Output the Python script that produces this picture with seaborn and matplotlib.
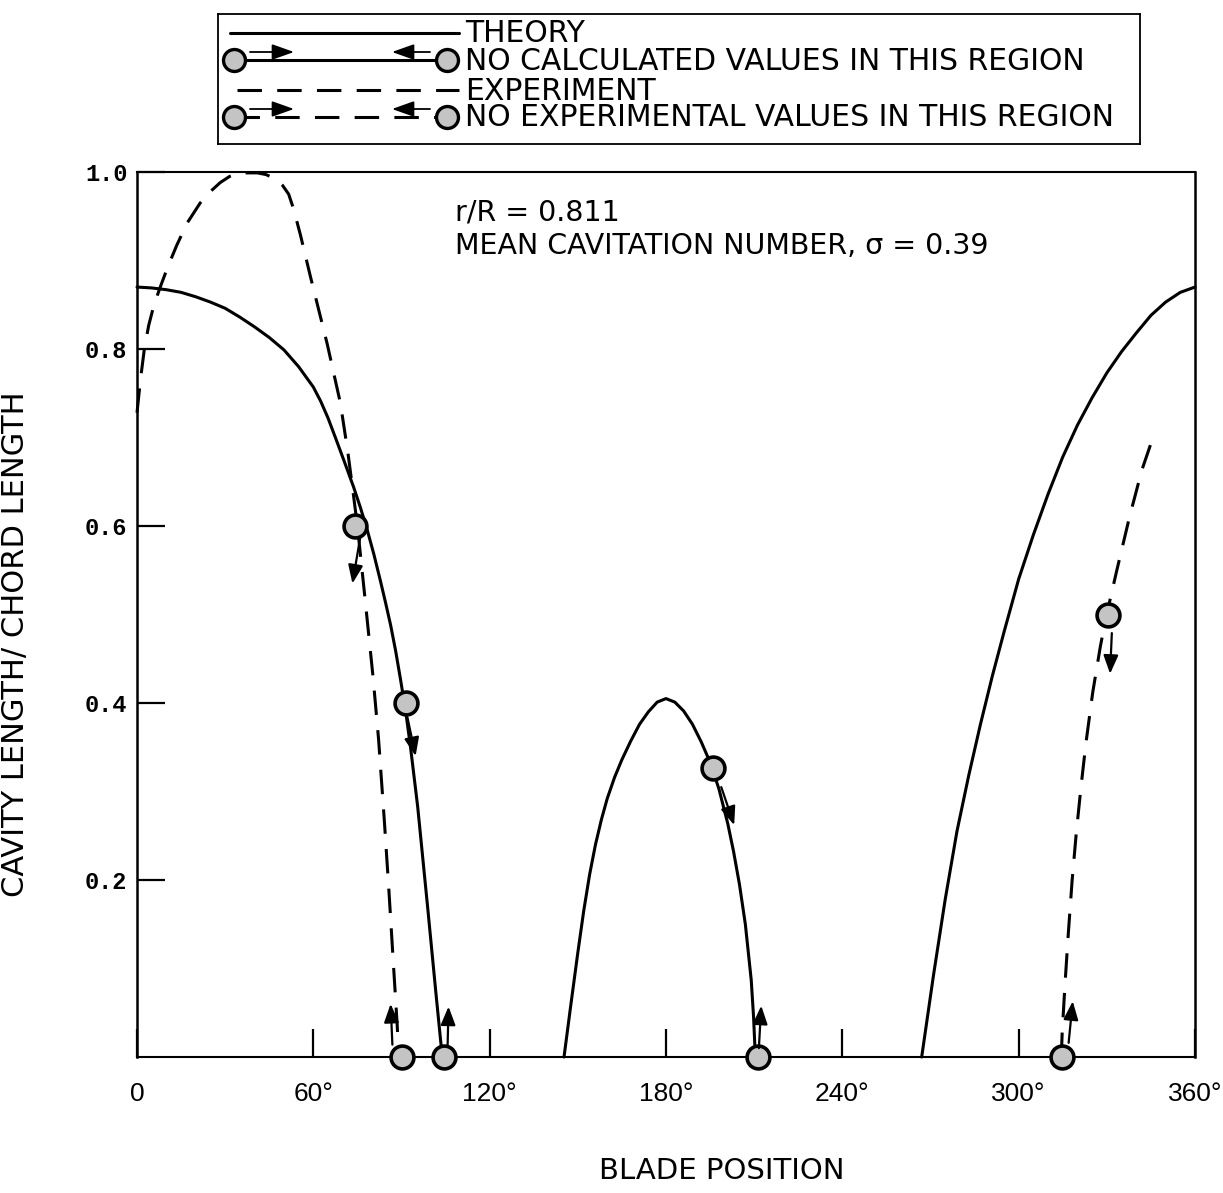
import matplotlib
matplotlib.use("Agg")
import matplotlib.pyplot as plt
import pandas as pd
import seaborn as sns

# ---- theory: cavity length / chord length vs blade position (deg) ----
theory_a_deg = [0, 5, 10, 15, 20, 25, 30, 35, 40, 45, 50, 55, 60, 62.5, 65,
                67.5, 70.3, 73.7, 76.0, 78.3, 80.6, 82.9, 84.6, 86.3, 88.0,
                89.7, 91.4, 93.0, 95.5, 98.9, 101.6, 103.3, 103.9]
theory_a_len = [0.870, 0.869, 0.867, 0.864, 0.859, 0.853, 0.846, 0.836, 0.825,
                0.813, 0.799, 0.780, 0.757, 0.741, 0.722, 0.700, 0.675, 0.644,
                0.621, 0.596, 0.568, 0.537, 0.513, 0.488, 0.459, 0.426, 0.391,
                0.352, 0.283, 0.169, 0.076, 0.019, 0.0]

theory_b_deg = [145.3, 147.5, 150.0, 152.0, 154.0, 156.0, 158.0, 160.0, 162.5,
                165.0, 168.0, 171.0, 174.0, 177.0, 180.0, 183.0, 186.0, 189.0,
                192.0, 195.0, 198.0, 201.0, 203.0, 205.0, 207.0, 209.0, 209.8,
                210.4]
theory_b_len = [0.0, 0.056, 0.118, 0.165, 0.206, 0.240, 0.268, 0.292, 0.316,
                0.336, 0.357, 0.376, 0.390, 0.401, 0.405, 0.401, 0.391, 0.376,
                0.356, 0.333, 0.303, 0.264, 0.232, 0.195, 0.150, 0.087, 0.045,
                0.0]

theory_c_deg = [267.0, 271.0, 275.0, 279.0, 283.0, 287.0, 291.0, 295.0, 300.0,
                305.0, 310.0, 315.0, 320.0, 325.0, 330.0, 335.0, 340.0, 345.0,
                350.0, 355.0, 360.0]
theory_c_len = [0.0, 0.092, 0.178, 0.255, 0.318, 0.376, 0.430, 0.480, 0.540,
                0.590, 0.636, 0.678, 0.714, 0.745, 0.773, 0.797, 0.818, 0.838,
                0.853, 0.864, 0.870]

# ---- experiment ----
exp_a_deg = [0, 1.2, 2.5, 4.0, 5.8, 7.8, 10.5, 13.5, 17.0, 21.5, 25.0, 28.3,
             31.5, 35.0, 41.0, 44.0, 47.6, 49.5, 51.6, 53.3, 55.6, 59.0, 64.7,
             69.2, 71.8, 73.3, 75.0, 77.4, 80.3, 82.2, 84.2, 85.7, 87.1, 88.5,
             89.1]
exp_a_len = [0.728, 0.766, 0.800, 0.827, 0.850, 0.869, 0.893, 0.917, 0.942,
             0.965, 0.978, 0.988, 0.995, 0.999, 0.999, 0.997, 0.991, 0.985,
             0.975, 0.958, 0.929, 0.882, 0.806, 0.739, 0.682, 0.644, 0.600,
             0.524, 0.430, 0.359, 0.265, 0.189, 0.113, 0.038, 0.0]

exp_b_deg = [314.5, 314.8, 315.8, 316.9, 318.2, 319.6, 321.2, 322.9, 325.2,
             327.8, 329.8, 333.4, 337.7, 341.9, 345.7]
exp_b_len = [0.0, 0.027, 0.084, 0.140, 0.200, 0.253, 0.305, 0.355, 0.412,
             0.464, 0.498, 0.550, 0.610, 0.663, 0.700]

# ---- end points of the regions without values ----
calc_gap_deg = [91.4, 104.3, 196.0, 211.4]
calc_gap_len = [0.40, 0.0, 0.327, 0.0]
exp_gap_deg = [74.3, 90.3, 314.7, 330.4]
exp_gap_len = [0.60, 0.0, 0.0, 0.499]

# direction arrows next to the end points: (tail_deg, tail_len, head_deg, head_len)
gap_arrows = [
    (76.0, 0.588, 73.3, 0.535),
    (92.0, 0.384, 94.8, 0.340),
    (198.8, 0.305, 203.2, 0.262),
    (211.6, 0.010, 212.4, 0.058),
    (86.9, 0.014, 86.3, 0.060),
    (105.7, 0.014, 106.0, 0.057),
    (317.0, 0.016, 318.4, 0.063),
    (331.7, 0.479, 331.1, 0.433),
]

x_ticks = [0, 60, 120, 180, 240, 300, 360]
x_tick_labels = ["0", "60\u00b0", "120\u00b0", "180\u00b0", "240\u00b0", "300\u00b0", "360\u00b0"]
y_ticks = [0.2, 0.4, 0.6, 0.8, 1.0]
y_tick_labels = ["0.2", "0.4", "0.6", "0.8", "1.0"]

legend_rows = ["THEORY", "NO CALCULATED VALUES IN THIS REGION",
               "EXPERIMENT", "NO EXPERIMENTAL VALUES IN THIS REGION"]

sns.set_style("ticks")
plt.rcParams["font.family"] = ["DejaVu Sans"]
plt.rcParams.update({"text.color": "black", "axes.labelcolor": "black",
                     "xtick.color": "black", "ytick.color": "black"})

W, H = 1223, 1193
fig = plt.figure(figsize=(W / 100, H / 100), dpi=100)
ax = fig.add_axes([137 / W, 1 - 1057 / H, 1058 / W, 885 / H])

LW = 2.2
DASH = (0, (8, 5))
MARK_FACE = "#c4c4c4"


def curve(deg, length, dashed):
    df = pd.DataFrame({"deg": deg, "len": length})
    sns.lineplot(data=df, x="deg", y="len", ax=ax, sort=False, estimator=None,
                 color="black", lw=LW, linestyle=DASH if dashed else "-",
                 clip_on=False, zorder=3)


curve(theory_a_deg, theory_a_len, False)
curve(theory_b_deg, theory_b_len, False)
curve(theory_c_deg, theory_c_len, False)
curve(exp_a_deg, exp_a_len, True)
curve(exp_b_deg, exp_b_len, True)

for gx, gy in ((calc_gap_deg, calc_gap_len), (exp_gap_deg, exp_gap_len)):
    sns.scatterplot(x=gx, y=gy, ax=ax, s=270, color=MARK_FACE,
                    edgecolor="black", linewidth=2.6, zorder=5, clip_on=False)

for tx, ty, hx, hy in gap_arrows:
    ax.annotate("", xy=(hx, hy), xytext=(tx, ty),
                arrowprops=dict(arrowstyle="-|>,head_length=0.7,head_width=0.28",
                                color="black", lw=1.6, shrinkA=0, shrinkB=0,
                                mutation_scale=16),
                zorder=6, annotation_clip=False)

ax.set_xlim(0, 360)
ax.set_ylim(0, 1.0)
ax.set_xticks(x_ticks)
ax.set_xticklabels(x_tick_labels)
ax.set_yticks(y_ticks)
ax.set_yticklabels(y_tick_labels)
ax.tick_params(axis="x", direction="in", length=20, width=1.6, pad=18,
               bottom=True, top=False)
ax.tick_params(axis="y", direction="in", length=20, width=1.6, pad=7,
               left=True, right=False)
for lbl in ax.get_xticklabels():
    lbl.set_fontfamily(["DejaVu Sans Condensed", "Liberation Sans"])
    lbl.set_fontsize(19)
    lbl.set_color("black")
for lbl in ax.get_yticklabels():
    lbl.set_fontfamily(["Liberation Mono", "DejaVu Sans Mono"])
    lbl.set_fontweight("bold")
    lbl.set_fontsize(17)
    lbl.set_color("black")

for side, sp in ax.spines.items():
    sp.set_visible(True)
    sp.set_linewidth(1.8 if side in ("left", "right") else 1.5)
    sp.set_color("black")

ax.set_xlabel("BLADE POSITION", fontsize=21, color="black")
ax.set_ylabel("CAVITY LENGTH/ CHORD LENGTH", fontsize=22, color="black")
ax.xaxis.set_label_coords((722 - 137) / 1058, (1057 - 1157) / 885)
ax.yaxis.set_label_coords((30 - 137) / 1058, (1057 - 644) / 885)

ax.text((455 - 137) / 1058, (1057 - 212) / 885, "r/R = 0.811",
        transform=ax.transAxes, fontsize=20.5, va="center", ha="left", color="black")
ax.text((455 - 137) / 1058, (1057 - 246) / 885,
        "MEAN CAVITATION NUMBER, \u03c3 = 0.39",
        transform=ax.transAxes, fontsize=20.5, va="center", ha="left", color="black")

# ---- boxed key above the plot ----
lg = fig.add_axes([218 / W, 1 - 144 / H, 922 / W, 130 / H])
lg.set_xlim(0, 922)
lg.set_ylim(130, 0)
lg.set_xticks([])
lg.set_yticks([])
lg.set_facecolor("white")
for sp in lg.spines.values():
    sp.set_visible(True)
    sp.set_linewidth(1.3)
    sp.set_color("black")

row_y = [19, 46, 76, 103]
lg.plot([12, 241], [row_y[0], row_y[0]], color="black", lw=LW)
lg.plot([16, 229], [row_y[1], row_y[1]], color="black", lw=LW)
lg.plot([19, 241], [row_y[2], row_y[2]], color="black", lw=LW, linestyle=DASH)
lg.plot([17, 229], [row_y[3], row_y[3]], color="black", lw=LW, linestyle=DASH)
for ry in (row_y[1], row_y[3]):
    lg.scatter([16, 229], [ry, ry], s=250, color=MARK_FACE, edgecolor="black",
               linewidth=2.4, zorder=4)
    ay = ry - 8
    for tx, hx in ((32, 76), (212, 174)):
        lg.annotate("", xy=(hx, ay), xytext=(tx, ay),
                    arrowprops=dict(arrowstyle="-|>,head_length=0.9,head_width=0.32",
                                    color="black", lw=1.3, shrinkA=0, shrinkB=0,
                                    mutation_scale=15))
for ry, txt in zip(row_y, legend_rows):
    lg.text(247, ry + 1, txt, fontsize=21.5, va="center", ha="left", color="black")

fig.savefig("out.png", dpi=100)
